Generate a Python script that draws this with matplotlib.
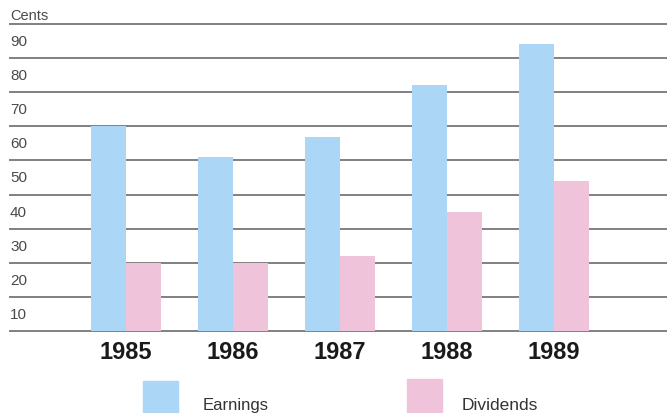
import matplotlib.pyplot as plt
from matplotlib.patches import Rectangle
import numpy as np

years = ["1985", "1986", "1987", "1988", "1989"]
earnings = [60, 51, 57, 72, 84]
dividends = [20, 20, 22, 35, 44]
ticks = [10, 20, 30, 40, 50, 60, 70, 80, 90]

blue = "#acd6f6"
pink = "#efc3da"
W, H = 667, 414

fig = plt.figure(figsize=(W / 100, H / 100), dpi=100)
ax = fig.add_axes([10 / W, 82 / H, 657 / W, (332 - 25) / H])

x = np.arange(len(years))
w = 0.327
ax.set_xlim(-1.084, -1.084 + 657 / 107)
ax.set_ylim(0, 90)

# horizontal rules behind the bars
for v in [0] + ticks:
    ax.axhline(v, color="#808080", lw=1.4, zorder=1, clip_on=False)

ax.bar(x - w / 2, earnings, w, color=blue, zorder=2)
ax.bar(x + w / 2, dividends, w, color=pink, zorder=2)

for s in ax.spines.values():
    s.set_visible(False)
ax.set_xticks([])
ax.set_yticks([])

# value labels sit in the band just under each rule
for v in ticks:
    ax.text(0.0, v - 5, str(v), transform=ax.get_yaxis_transform(),
            ha="left", va="center", fontsize=11, color="#4a4a4a",
            family="Liberation Sans")
ax.text(0.0, 90.6, "Cents", transform=ax.get_yaxis_transform(),
        ha="left", va="bottom", fontsize=10.5, color="#4a4a4a",
        family="Liberation Sans")

for i, yr in enumerate(years):
    ax.text(x[i], -6, yr, ha="center", va="center", fontsize=17,
            fontweight="bold", color="#1a1a1a", family="Liberation Sans")

# legend swatches along the bottom edge
fig.add_artist(Rectangle((143 / W, 0), 35 / W, 32 / H, color=blue,
                         transform=fig.transFigure))
fig.add_artist(Rectangle((407 / W, 0), 35 / W, 34 / H, color=pink,
                         transform=fig.transFigure))
fig.text(203 / W, 8 / H, "Earnings", ha="left", va="center", fontsize=12,
         color="#333333", family="Liberation Sans")
fig.text(462 / W, 8 / H, "Dividends", ha="left", va="center", fontsize=12.5,
         color="#333333", family="Liberation Sans")

fig.savefig("out.png", dpi=100)
